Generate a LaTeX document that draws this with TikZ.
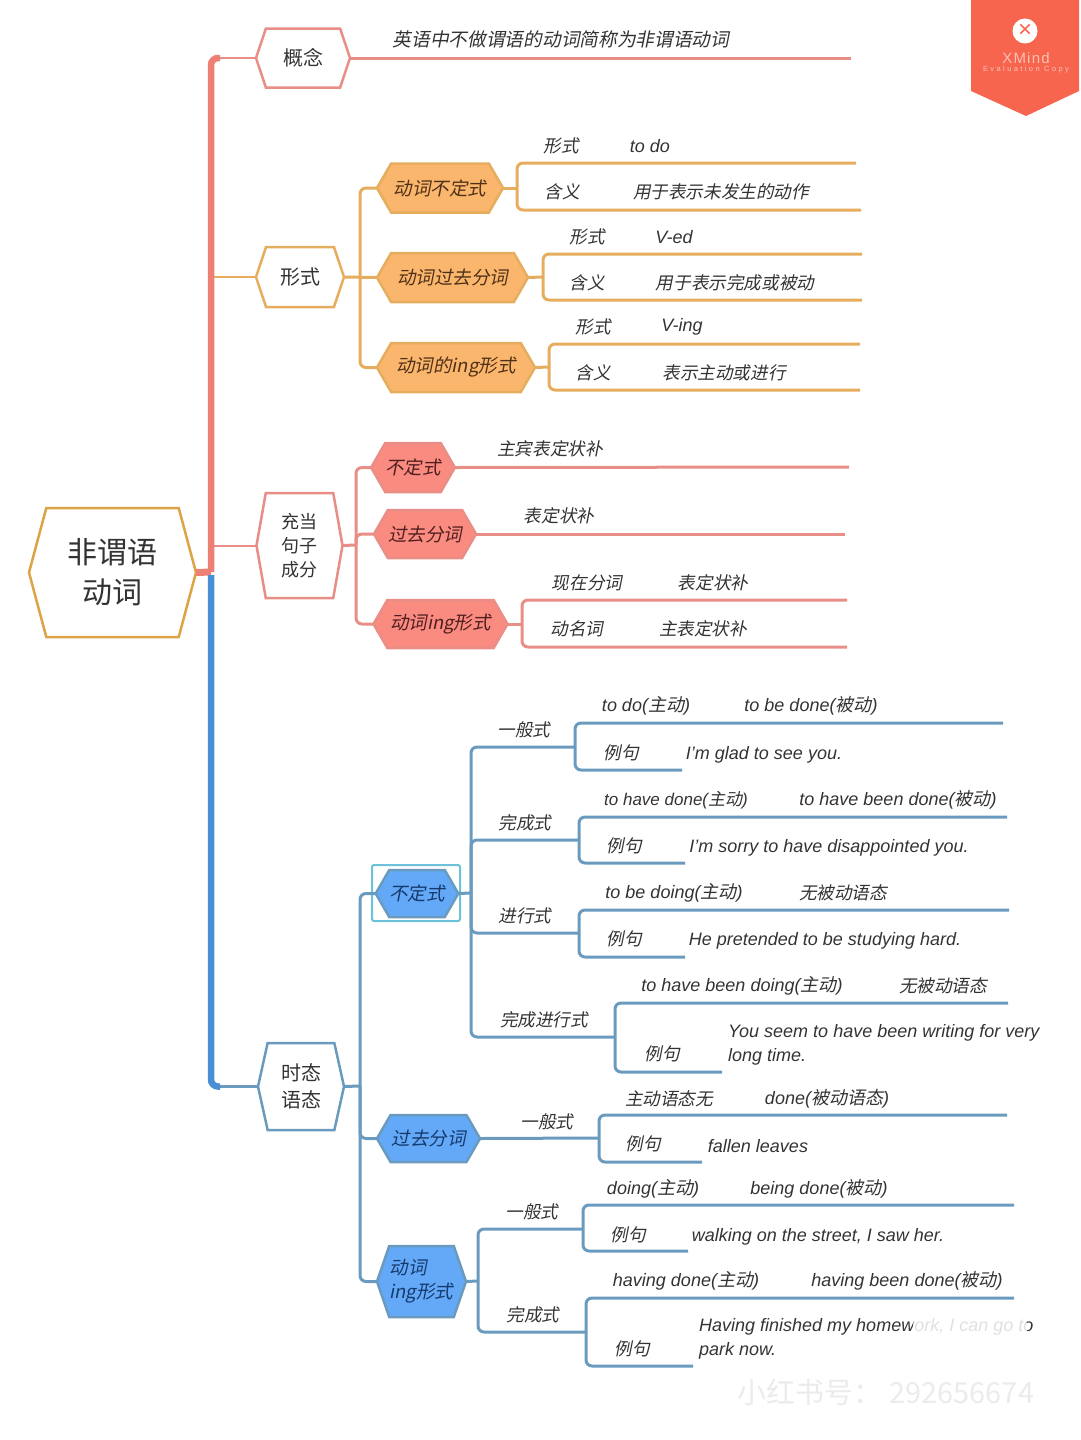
\documentclass[tikz,border=0pt]{standalone}
\usepackage{fontspec}
\setmainfont{Liberation Sans}
\newfontfamily\cjkup{Noto Sans CJK SC}
\newfontfamily\cjkit[FakeSlant=0.2]{Noto Sans CJK SC}
\newcommand{\zh}[1]{{\cjkit #1}}
\usetikzlibrary{shapes.symbols,calc}
\definecolor{rootline}{HTML}{DDA347}
\definecolor{redtrunk}{HTML}{EE7F75}
\definecolor{redline}{HTML}{E88E86}
\definecolor{redfill}{HTML}{FA8B80}
\definecolor{redtext}{HTML}{4F1F1F}
\definecolor{orgline}{HTML}{E6AD5F}
\definecolor{orgfill}{HTML}{FAB66C}
\definecolor{orgtext}{HTML}{4F3018}
\definecolor{bluetrunk}{HTML}{4A8FD6}
\definecolor{blueline}{HTML}{6A9BBF}
\definecolor{bluefill}{HTML}{63A9F8}
\definecolor{bluetext}{HTML}{16396B}
\definecolor{selbox}{HTML}{6EC1DB}
\definecolor{txt}{HTML}{333333}
\definecolor{badge}{HTML}{F7654E}
\definecolor{badgetext}{HTML}{F9C2B4}
\definecolor{stamp}{HTML}{EBEBEB}
\begin{document}
\begin{tikzpicture}
  [x=1pt,y=-1pt,
   hexnode/.style n args={3}{shape=signal, signal to=east and west, signal pointer angle=#3,
     minimum width=#1, minimum height=#2, inner sep=0pt, outer sep=0pt, line width=2.5pt,
     align=center},
   plain/.style={hexnode={#1}, fill=white, text=txt, font=\fontsize{20}{27}\selectfont\cjkup},
   lab/.style={text=txt, inner sep=0pt, yshift=-1pt, align=left, font=\fontsize{18}{24}\selectfont\itshape},
   zlab/.style={lab, font=\fontsize{17.6}{24}\selectfont\cjkit},
   orgnode/.style={draw=orgline, fill=orgfill, text=orgtext, font=\fontsize{18.5}{24}\selectfont\cjkit},
   rednode/.style={draw=redline, fill=redfill, text=redtext, font=\fontsize{18.5}{24}\selectfont\cjkit},
   bluenode/.style={draw=blueline, fill=bluefill, text=bluetext, font=\fontsize{18.5}{24}\selectfont\cjkit},
   redl/.style={draw=redline, line width=3pt, rounded corners=6pt},
   orgl/.style={draw=orgline, line width=3pt, rounded corners=6pt},
   bluel/.style={draw=blueline, line width=3pt, rounded corners=6pt}]

  \newcommand{\forklines}[6]{
    \coordinate (#1t) at (#4,#2);
    \coordinate (#1b) at (#5,#3);
    \draw[#6] (#1t) -| (#1) |- (#1b);
  }

  \useasboundingbox (0,0) rectangle (1080,1440);

  % centre and trunk
  \node[plain={167}{129}{150}, draw=rootline, font=\fontsize{30}{40}\selectfont\cjkup] (root) at (112.5,572.5) {非谓语\\动词};
  \node[plain={94}{59}{143}, draw=redline] (concept) at (303,58) {概念};
  \node[plain={88}{60}{143}, draw=orgline] (form) at (300,277) {形式};
  \node[plain={86}{105}{160}, draw=redline, font=\fontsize{18}{24}\selectfont\cjkup] (role) at (299.5,545.5) {充当\\句子\\成分};
  \node[plain={86}{87}{155}, draw=blueline] (voice) at (301,1086.5) {时态\\语态};

  \coordinate (hub) at (211,572);
  \draw[draw=redline, line width=2pt] ($(hub |- concept.west)+(4,0)$) -- (concept.west);
  \draw[draw=orgline, line width=2pt] (hub |- form.west) -- (form.west);
  \draw[draw=redline, line width=2pt] (hub |- role.west) -- (role.west);
  \draw[draw=blueline, line width=3pt] ($(hub |- voice.west)+(4,0)$) -- (voice.west);
  \draw[draw=redtrunk, line width=7pt] (root.east) -- (hub);
  \draw[draw=redtrunk, line width=6.5pt, rounded corners=7pt] (hub) |- ($(hub |- concept.west)+(9,0)$);
  \draw[draw=bluetrunk, line width=6.5pt, rounded corners=7pt] ($(hub)+(0,3)$) |- ($(hub |- voice.west)+(9,0)$);

  % concept
  \coordinate (conceptend) at (851,58);
  \draw[redl] (concept.east) -- (conceptend);
  \node[zlab, font=\fontsize{18.7}{24}\selectfont\cjkit] (conceptlab) at (561,38) {英语中不做谓语的动词简称为非谓语动词};

  % form
  \node[hexnode={126}{49}{120}, orgnode] (inf) at (440,188) {动词不定式};
  \node[hexnode={151}{49}{120}, orgnode] (part) at (452.5,277.5) {动词过去分词};
  \node[hexnode={158}{49}{120}, orgnode] (ing) at (456,367.5) {\zh{动词的}{\itshape ing}\zh{形式}};
  \coordinate (formhub) at (360,277);
  \draw[orgl] (form.east) -- (part.west);
  \draw[orgl] (inf.west) -| (formhub) |- (ing.west);

  \coordinate (inffork) at (517,188);
  \coordinate (partfork) at (543,277);
  \coordinate (ingfork) at (549,367);
  \draw[orgl] (inf.east) -- (inffork);
  \draw[orgl] (part.east) -- (partfork);
  \draw[orgl] (ing.east) -- (ingfork);
  \forklines{inffork}{163}{210}{856}{861}{orgl}
  \forklines{partfork}{254}{300}{862}{862}{orgl}
  \forklines{ingfork}{344}{390}{860}{860}{orgl}

  \node[zlab] (inf1) at (561,145) {形式};
  \node[lab] (inf2) at (650,145) {to do};
  \node[zlab] (inf3) at (562,191) {含义};
  \node[zlab] (inf4) at (721,191) {用于表示未发生的动作};
  \node[zlab] (part1) at (587,236) {形式};
  \node[lab] (part2) at (674,236) {V-ed};
  \node[zlab] (part3) at (587,282) {含义};
  \node[zlab] (part4) at (735,282) {用于表示完成或被动};
  \node[zlab] (ing1) at (593,326) {形式};
  \node[lab] (ing2) at (682,326) {V-ing};
  \node[zlab] (ing3) at (593,372) {含义};
  \node[zlab] (ing4) at (724,372) {表示主动或进行};

  % role
  \node[hexnode={80}{49}{120}, rednode] (rinf) at (413,467.5) {不定式};
  \node[hexnode={102}{48}{120}, rednode] (rpart) at (425,534) {过去分词};
  \node[hexnode={134}{48}{120}, rednode] (ring) at (440.5,624) {\zh{动词}{\itshape ing}\zh{形式}};
  \coordinate (rolehub) at (356,545);
  \draw[redl] (role.east) -- (rolehub);
  \draw[redl] (rinf.west) -| (rolehub) |- (ring.west);
  \draw[redl] (rolehub) |- (rpart.west);
  \coordinate (rinfend) at (849,467);
  \coordinate (rpartend) at (845,534);
  \draw[redl] (rinf.east) -- (rinfend);
  \draw[redl] (rpart.east) -- (rpartend);
  \coordinate (ringfork) at (522,624);
  \draw[redl] (ring.east) -- (ringfork);
  \forklines{ringfork}{600}{647}{847}{847}{redl}

  \node[zlab] (rinf1) at (550,448) {主宾表定状补};
  \node[zlab] (rpart1) at (559,515) {表定状补};
  \node[zlab] (ring1) at (587,582) {现在分词};
  \node[zlab] (ring2) at (713,582) {表定状补};
  \node[zlab] (ring3) at (577,628) {动名词};
  \node[zlab] (ring4) at (703,628) {主表定状补};

  % voice
  \node[hexnode={80}{47}{120}, bluenode] (binf) at (417,893.5) {不定式};
  \node[draw=selbox, line width=2pt, rounded corners=2pt, minimum width=88pt, minimum height=56pt, inner sep=0pt] (selected) at (416,893) {};
  \node[hexnode={103}{47}{120}, bluenode] (bpart) at (428.5,1138.5) {过去分词};
  \node[hexnode={89}{71}{142}, bluenode, align=left] (bing) at (421.5,1281.5) {动词\\{\itshape ing}\zh{形式}};
  \coordinate (voicehub) at (360,1086);
  \draw[bluel] (voice.east) -- (voicehub);
  \draw[bluel] (binf.west) -| (voicehub) |- (bing.west);
  \draw[bluel] (voicehub) |- (bpart.west);

  \coordinate (binfhub) at (471,893);
  \draw[bluel] (binf.east) -- (binfhub);
  \coordinate (ge) at (575,747);
  \coordinate (pe) at (579,840);
  \coordinate (pr) at (579,933);
  \coordinate (pc) at (615,1037);
  \draw[bluel] (ge) -| (binfhub) |- (pc);
  \draw[bluel] (binfhub) |- (pe);
  \draw[bluel] (binfhub) |- (pr);
  \forklines{ge}{723}{770}{1003}{682}{bluel}
  \forklines{pe}{817}{863}{1007}{685}{bluel}
  \forklines{pr}{910}{957}{1009}{685}{bluel}
  \forklines{pc}{1003}{1072}{1008}{722}{bluel}

  \node[zlab] (gelab) at (524,729) {一般式};
  \node[zlab] (pelab) at (525,822) {完成式};
  \node[zlab] (prlab) at (525,915) {进行式};
  \node[zlab] (pclab) at (544,1019) {完成进行式};

  \node[lab] (ge1) at (646,705) {to do(\zh{主动})};
  \node[lab] (ge2) at (811,705) {to be done(\zh{被动})};
  \node[zlab] (ge3) at (621,752) {例句};
  \node[lab] (ge4) at (764,754) {I'm glad to see you.};
  \node[lab, font=\fontsize{17}{24}\selectfont\itshape] (pe1) at (676,799) {to have done(\zh{主动})};
  \node[lab] (pe2) at (898,799) {to have been done(\zh{被动})};
  \node[zlab] (pe3) at (624,845) {例句};
  \node[lab] (pe4) at (829,847) {I'm sorry to have disappointed you.};
  \node[lab] (pr1) at (674,892) {to be doing(\zh{主动})};
  \node[zlab] (pr2) at (843,892) {无被动语态};
  \node[zlab] (pr3) at (624,938) {例句};
  \node[lab] (pr4) at (825,940) {He pretended to be studying hard.};
  \node[lab] (pc1) at (742,985) {to have been doing(\zh{主动})};
  \node[zlab] (pc2) at (943,985) {无被动语态};
  \node[zlab] (pc3) at (662,1053) {例句};
  \node[lab, anchor=west] (pc4) at (728,1044) {You seem to have been writing for very\\long time.};

  \coordinate (bpe) at (599,1138);
  \draw[bluel] (bpart.east) -- (bpe);
  \forklines{bpe}{1115}{1162}{1007}{702}{bluel}
  \node[zlab] (bpelab) at (547,1121) {一般式};
  \node[zlab] (bp1) at (669,1098) {主动语态无};
  \node[lab] (bp2) at (827,1098) {done(\zh{被动语态})};
  \node[zlab] (bp3) at (643,1143) {例句};
  \node[lab] (bp4) at (758,1145) {fallen leaves};

  \coordinate (binghub) at (478,1281);
  \draw[bluel] (bing.east) -- (binghub);
  \coordinate (ige) at (583,1229);
  \coordinate (ipe) at (586,1332);
  \draw[bluel] (ige) -| (binghub) |- (ipe);
  \forklines{ige}{1205}{1251}{1014}{688}{bluel}
  \forklines{ipe}{1298}{1366}{1014}{693}{bluel}
  \node[zlab] (igelab) at (532,1211) {一般式};
  \node[zlab] (ipelab) at (533,1314) {完成式};
  \node[lab] (ig1) at (653,1188) {doing(\zh{主动})};
  \node[lab] (ig2) at (819,1188) {being done(\zh{被动})};
  \node[zlab] (ig3) at (628,1234) {例句};
  \node[lab] (ig4) at (818,1236) {walking on the street, I saw her.};
  \node[lab] (ip1) at (686,1280) {having done(\zh{主动})};
  \node[lab] (ip2) at (907,1280) {having been done(\zh{被动})};
  \node[zlab] (ip3) at (632,1348) {例句};
  \node[lab, anchor=west] (ip4) at (699,1338) {Having finished my homework, I can go to\\park now.};

  % stamps
  \node[fill=white, fill opacity=0.85, rounded corners=16pt, minimum width=114pt, minimum height=44pt, inner sep=0pt] (stampbox) at (970,1332) {};
  \node[text=stamp, inner sep=0pt, font=\fontsize{29}{32}\selectfont\cjkup] (stamp2) at (886,1392) {小红书号： 292656674};

  \fill[badge] (971,0) -- (1079,0) -- (1079,91) -- (1026,116) -- (971,91) -- cycle;
  \node[circle, fill=white, text=badge, minimum size=25pt, inner sep=0pt, font=\fontsize{24}{24}\selectfont] (xmark) at (1025,31) {×};
  \node[text=badgetext, inner sep=0pt, font=\fontsize{15}{15}\selectfont\addfontfeature{LetterSpace=8}] (xmind) at (1026,58) {XMind};
  \node[text=badgetext, inner sep=0pt, font=\fontsize{7.5}{8}\selectfont\addfontfeature{LetterSpace=32}] (xcopy) at (1026,70) {Evaluation Copy};
\end{tikzpicture}
\end{document}
